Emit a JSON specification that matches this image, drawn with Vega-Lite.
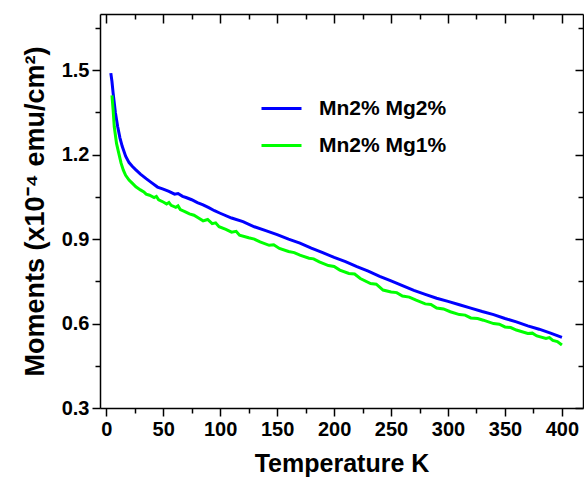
{
  "$schema": "https://vega.github.io/schema/vega-lite/v6.json",
  "width": 483,
  "height": 394,
  "autosize": "none",
  "padding": {"left": 100, "top": 14, "right": 1, "bottom": 69},
  "background": "white",
  "config": {
    "view": {"stroke": null},
    "font": "Liberation Sans",
    "axis": {
      "domainColor": "black", "domainWidth": 1.5, "tickColor": "black", "tickWidth": 1.5,
      "grid": false, "labelFont": "Liberation Sans", "labelFontWeight": "bold", "labelFontSize": 20,
      "labelColor": "black", "titleFont": "Liberation Sans", "titleFontWeight": "bold",
      "titleFontSize": 25, "titleColor": "black"
    },
    "legend": {
      "orient": "none", "legendX": 160, "legendY": 73, "symbolType": "stroke", "symbolSize": 1600,
      "symbolStrokeWidth": 3, "labelFont": "Liberation Sans", "labelFontWeight": "bold",
      "labelFontSize": 21, "labelColor": "black", "rowPadding": 5, "labelOffset": 16, "padding": 0
    }
  },
  "data": {"values": [
    {"s":"Mn2% Mg2%","T":4,"V":1.49},{"s":"Mn2% Mg2%","T":5,"V":1.46},{"s":"Mn2% Mg2%","T":6,"V":1.42},
    {"s":"Mn2% Mg2%","T":8,"V":1.35},{"s":"Mn2% Mg2%","T":10,"V":1.30},{"s":"Mn2% Mg2%","T":12,"V":1.26},
    {"s":"Mn2% Mg2%","T":14,"V":1.23},{"s":"Mn2% Mg2%","T":17,"V":1.195},{"s":"Mn2% Mg2%","T":20,"V":1.172},
    {"s":"Mn2% Mg2%","T":23,"V":1.158},{"s":"Mn2% Mg2%","T":26,"V":1.146},{"s":"Mn2% Mg2%","T":30,"V":1.131},
    {"s":"Mn2% Mg2%","T":35,"V":1.115},{"s":"Mn2% Mg2%","T":40,"V":1.100},{"s":"Mn2% Mg2%","T":45,"V":1.085},
    {"s":"Mn2% Mg2%","T":50,"V":1.078},{"s":"Mn2% Mg2%","T":55,"V":1.070},{"s":"Mn2% Mg2%","T":60,"V":1.060},
    {"s":"Mn2% Mg2%","T":63,"V":1.062},{"s":"Mn2% Mg2%","T":67,"V":1.052},{"s":"Mn2% Mg2%","T":70,"V":1.048},
    {"s":"Mn2% Mg2%","T":75,"V":1.040},{"s":"Mn2% Mg2%","T":80,"V":1.030},{"s":"Mn2% Mg2%","T":85,"V":1.022},
    {"s":"Mn2% Mg2%","T":90,"V":1.012},{"s":"Mn2% Mg2%","T":95,"V":1.001},{"s":"Mn2% Mg2%","T":100,"V":0.992},
    {"s":"Mn2% Mg2%","T":110,"V":0.975},{"s":"Mn2% Mg2%","T":120,"V":0.962},{"s":"Mn2% Mg2%","T":130,"V":0.944},
    {"s":"Mn2% Mg2%","T":140,"V":0.930},{"s":"Mn2% Mg2%","T":150,"V":0.916},{"s":"Mn2% Mg2%","T":160,"V":0.900},
    {"s":"Mn2% Mg2%","T":170,"V":0.886},{"s":"Mn2% Mg2%","T":180,"V":0.868},{"s":"Mn2% Mg2%","T":190,"V":0.852},
    {"s":"Mn2% Mg2%","T":200,"V":0.835},{"s":"Mn2% Mg2%","T":210,"V":0.820},{"s":"Mn2% Mg2%","T":220,"V":0.802},
    {"s":"Mn2% Mg2%","T":230,"V":0.786},{"s":"Mn2% Mg2%","T":240,"V":0.768},{"s":"Mn2% Mg2%","T":250,"V":0.752},
    {"s":"Mn2% Mg2%","T":260,"V":0.735},{"s":"Mn2% Mg2%","T":270,"V":0.718},{"s":"Mn2% Mg2%","T":280,"V":0.704},
    {"s":"Mn2% Mg2%","T":290,"V":0.690},{"s":"Mn2% Mg2%","T":300,"V":0.679},{"s":"Mn2% Mg2%","T":310,"V":0.667},
    {"s":"Mn2% Mg2%","T":320,"V":0.655},{"s":"Mn2% Mg2%","T":330,"V":0.643},{"s":"Mn2% Mg2%","T":340,"V":0.632},
    {"s":"Mn2% Mg2%","T":350,"V":0.618},{"s":"Mn2% Mg2%","T":360,"V":0.606},{"s":"Mn2% Mg2%","T":370,"V":0.592},
    {"s":"Mn2% Mg2%","T":380,"V":0.580},{"s":"Mn2% Mg2%","T":390,"V":0.566},{"s":"Mn2% Mg2%","T":400,"V":0.551},
    {"s":"Mn2% Mg1%","T":5,"V":1.411},{"s":"Mn2% Mg1%","T":6,"V":1.36},{"s":"Mn2% Mg1%","T":7,"V":1.30},
    {"s":"Mn2% Mg1%","T":9,"V":1.24},{"s":"Mn2% Mg1%","T":11,"V":1.205},{"s":"Mn2% Mg1%","T":13,"V":1.170},
    {"s":"Mn2% Mg1%","T":15,"V":1.145},{"s":"Mn2% Mg1%","T":17,"V":1.127},{"s":"Mn2% Mg1%","T":20,"V":1.110},
    {"s":"Mn2% Mg1%","T":23,"V":1.098},{"s":"Mn2% Mg1%","T":26,"V":1.086},{"s":"Mn2% Mg1%","T":30,"V":1.075},
    {"s":"Mn2% Mg1%","T":33,"V":1.068},{"s":"Mn2% Mg1%","T":35,"V":1.060},{"s":"Mn2% Mg1%","T":38,"V":1.056},
    {"s":"Mn2% Mg1%","T":42,"V":1.048},{"s":"Mn2% Mg1%","T":44,"V":1.052},{"s":"Mn2% Mg1%","T":46,"V":1.040},
    {"s":"Mn2% Mg1%","T":50,"V":1.032},{"s":"Mn2% Mg1%","T":53,"V":1.025},{"s":"Mn2% Mg1%","T":55,"V":1.030},
    {"s":"Mn2% Mg1%","T":57,"V":1.020},{"s":"Mn2% Mg1%","T":61,"V":1.013},{"s":"Mn2% Mg1%","T":63,"V":1.018},
    {"s":"Mn2% Mg1%","T":65,"V":1.005},{"s":"Mn2% Mg1%","T":69,"V":0.998},{"s":"Mn2% Mg1%","T":73,"V":0.990},
    {"s":"Mn2% Mg1%","T":77,"V":0.985},{"s":"Mn2% Mg1%","T":81,"V":0.975},{"s":"Mn2% Mg1%","T":85,"V":0.965},
    {"s":"Mn2% Mg1%","T":89,"V":0.970},{"s":"Mn2% Mg1%","T":93,"V":0.955},{"s":"Mn2% Mg1%","T":96,"V":0.958},
    {"s":"Mn2% Mg1%","T":99,"V":0.944},{"s":"Mn2% Mg1%","T":105,"V":0.935},{"s":"Mn2% Mg1%","T":110,"V":0.925},
    {"s":"Mn2% Mg1%","T":114,"V":0.928},{"s":"Mn2% Mg1%","T":117,"V":0.914},{"s":"Mn2% Mg1%","T":125,"V":0.905},
    {"s":"Mn2% Mg1%","T":130,"V":0.900},{"s":"Mn2% Mg1%","T":135,"V":0.890},{"s":"Mn2% Mg1%","T":143,"V":0.878},
    {"s":"Mn2% Mg1%","T":147,"V":0.880},{"s":"Mn2% Mg1%","T":152,"V":0.867},{"s":"Mn2% Mg1%","T":160,"V":0.856},
    {"s":"Mn2% Mg1%","T":165,"V":0.852},{"s":"Mn2% Mg1%","T":170,"V":0.843},{"s":"Mn2% Mg1%","T":178,"V":0.832},
    {"s":"Mn2% Mg1%","T":182,"V":0.830},{"s":"Mn2% Mg1%","T":187,"V":0.819},{"s":"Mn2% Mg1%","T":195,"V":0.806},
    {"s":"Mn2% Mg1%","T":200,"V":0.803},{"s":"Mn2% Mg1%","T":205,"V":0.790},{"s":"Mn2% Mg1%","T":213,"V":0.778},
    {"s":"Mn2% Mg1%","T":218,"V":0.776},{"s":"Mn2% Mg1%","T":223,"V":0.760},{"s":"Mn2% Mg1%","T":232,"V":0.742},
    {"s":"Mn2% Mg1%","T":237,"V":0.740},{"s":"Mn2% Mg1%","T":243,"V":0.719},{"s":"Mn2% Mg1%","T":250,"V":0.712},
    {"s":"Mn2% Mg1%","T":255,"V":0.710},{"s":"Mn2% Mg1%","T":260,"V":0.698},{"s":"Mn2% Mg1%","T":266,"V":0.694},
    {"s":"Mn2% Mg1%","T":272,"V":0.683},{"s":"Mn2% Mg1%","T":280,"V":0.670},{"s":"Mn2% Mg1%","T":285,"V":0.668},
    {"s":"Mn2% Mg1%","T":290,"V":0.655},{"s":"Mn2% Mg1%","T":296,"V":0.652},{"s":"Mn2% Mg1%","T":302,"V":0.642},
    {"s":"Mn2% Mg1%","T":310,"V":0.632},{"s":"Mn2% Mg1%","T":315,"V":0.630},{"s":"Mn2% Mg1%","T":320,"V":0.620},
    {"s":"Mn2% Mg1%","T":326,"V":0.618},{"s":"Mn2% Mg1%","T":331,"V":0.612},{"s":"Mn2% Mg1%","T":340,"V":0.600},
    {"s":"Mn2% Mg1%","T":345,"V":0.598},{"s":"Mn2% Mg1%","T":350,"V":0.588},{"s":"Mn2% Mg1%","T":355,"V":0.586},
    {"s":"Mn2% Mg1%","T":360,"V":0.577},{"s":"Mn2% Mg1%","T":370,"V":0.565},{"s":"Mn2% Mg1%","T":374,"V":0.566},
    {"s":"Mn2% Mg1%","T":378,"V":0.556},{"s":"Mn2% Mg1%","T":386,"V":0.547},{"s":"Mn2% Mg1%","T":389,"V":0.550},
    {"s":"Mn2% Mg1%","T":392,"V":0.540},{"s":"Mn2% Mg1%","T":396,"V":0.536},{"s":"Mn2% Mg1%","T":400,"V":0.524}
  ]},
  "resolve": {"axis": {"x": "independent", "y": "independent"}},
  "layer": [
    {
      "mark": {"type": "line", "opacity": 0},
      "encoding": {
        "x": {"field": "T", "type": "quantitative", "scale": {"domain": [-5.5, 418.5], "nice": false, "zero": false},
              "axis": {"orient": "top", "values": [25, 75, 125, 175, 225, 275, 325, 375], "labels": false, "tickSize": -5, "domain": false, "title": null}},
        "y": {"field": "V", "type": "quantitative", "scale": {"domain": [0.3, 1.7], "nice": false, "zero": false},
              "axis": {"orient": "right", "values": [0.45, 0.75, 1.05, 1.35, 1.65], "labels": false, "tickSize": -5, "domain": false, "title": null}},
        "detail": {"field": "s"}
      }
    },
    {
      "mark": {"type": "line", "opacity": 0},
      "encoding": {
        "x": {"field": "T", "type": "quantitative",
              "axis": {"orient": "top", "values": [0, 50, 100, 150, 200, 250, 300, 350, 400], "labels": false, "tickSize": -9, "title": null}},
        "y": {"field": "V", "type": "quantitative",
              "axis": {"orient": "right", "values": [0.3, 0.6, 0.9, 1.2, 1.5], "labels": false, "tickSize": -8, "title": null}},
        "detail": {"field": "s"}
      }
    },
    {
      "mark": {"type": "line", "opacity": 0},
      "encoding": {
        "x": {"field": "T", "type": "quantitative",
              "axis": {"orient": "bottom", "values": [25, 75, 125, 175, 225, 275, 325, 375], "labels": false, "tickSize": 5, "domain": false, "title": null}},
        "y": {"field": "V", "type": "quantitative",
              "axis": {"orient": "left", "values": [0.45, 0.75, 1.05, 1.35, 1.65], "labels": false, "tickSize": 5, "domain": false, "title": null}},
        "detail": {"field": "s"}
      }
    },
    {
      "mark": {"type": "line", "strokeWidth": 3, "clip": true},
      "encoding": {
        "x": {"field": "T", "type": "quantitative",
              "axis": {"orient": "bottom", "values": [0, 50, 100, 150, 200, 250, 300, 350, 400], "tickSize": 8, "labelPadding": 3, "title": "Temperature K", "titlePadding": 12}},
        "y": {"field": "V", "type": "quantitative",
              "axis": {"orient": "left", "values": [0.3, 0.6, 0.9, 1.2, 1.5], "format": ".1f", "tickSize": 8, "labelPadding": 3, "title": "Moments (x10⁻⁴ emu/cm²)", "titleFontSize": 27, "titlePadding": 12}},
        "color": {"field": "s", "type": "nominal", "sort": ["Mn2% Mg2%", "Mn2% Mg1%"],
                  "scale": {"domain": ["Mn2% Mg2%", "Mn2% Mg1%"], "range": ["#0000ff", "#00ff00"]},
                  "legend": {"title": null}}
      }
    }
  ]
}
